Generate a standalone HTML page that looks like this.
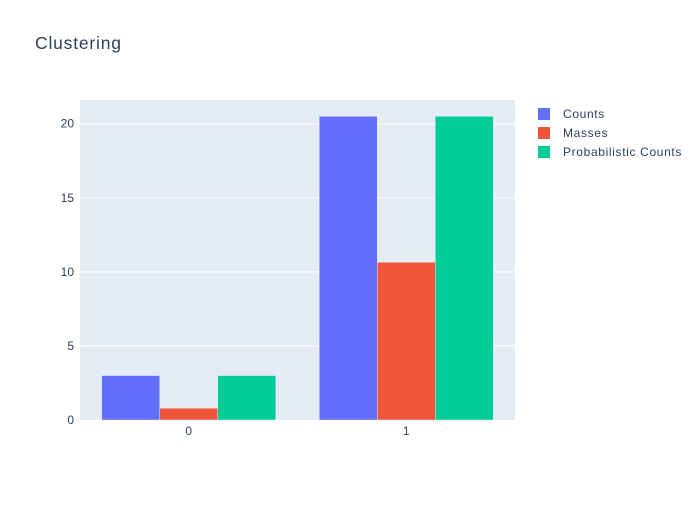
<!DOCTYPE html>
<html><head><meta charset="utf-8"><style>
body{margin:0;background:#fff;font-family:"Liberation Sans",sans-serif}
text{font-family:"Liberation Sans",sans-serif}
</style></head><body>
<svg id="chart" width="700" height="500" xmlns="http://www.w3.org/2000/svg">
<rect width="700" height="500" fill="#fff"/>
<text x="35" y="49" font-size="17.5" letter-spacing="0.8" fill="#2a3f5f">Clustering</text>
<rect x="80" y="100" width="435" height="320" fill="#e5ecf6"/>
<g id="grid"></g><g id="bars"></g><g id="axes"></g><g id="legend"></g>
</svg>
<script>
const categories=["0","1"];
const seriesNames=["Counts","Masses","Probabilistic Counts"];
const counts=[3,20.5];
const masses=[0.8,10.65];
const probCounts=[3,20.5];
const yTicks=[0,5,10,15,20];
const colors=["#636efa","#EF553B","#00cc96"];
const series=[counts,masses,probCounts];
const ns="http://www.w3.org/2000/svg";
const L=80,R=515,T=100,B=420,yMax=21.6;
const y=v=>B-(v/yMax)*(B-T);
const band=(R-L)/categories.length;
const xc=i=>L+band*(i+0.5);
function mk(tag,attrs,parent){const e=document.createElementNS(ns,tag);for(const k in attrs)e.setAttribute(k,attrs[k]);document.getElementById(parent).appendChild(e);return e;}
yTicks.forEach(t=>{
  if(t>0){const g=mk("line",{x1:L,x2:R,y1:y(t),y2:y(t),stroke:"#fff","stroke-width":1},"grid");
  
  }
  const tx=mk("text",{x:L-6,y:y(t)+4,"text-anchor":"end","font-size":12,fill:"#2a3f5f"},"axes");
  tx.textContent=t;
  
  
});
const bw=band*0.8/series.length;
categories.forEach((c,i)=>{
  series.forEach((s,j)=>{
    const x0=xc(i)-band*0.4+j*bw;
    const r=mk("rect",{x:x0,y:y(s[i]),width:bw,height:B-y(s[i]),fill:colors[j],stroke:"#e5ecf6","stroke-width":0.5},"bars");
    
    
  });
  const tx=mk("text",{x:xc(i),y:B+15,"text-anchor":"middle","font-size":12,fill:"#2a3f5f"},"axes");
  tx.textContent=c;
  
  
});
seriesNames.forEach((n,j)=>{
  const g=mk("g",{},"legend");
  
  
  const yy=114+j*19;
  const r=document.createElementNS(ns,"rect");
  r.setAttribute("x",538);r.setAttribute("y",yy-6);r.setAttribute("width",12);r.setAttribute("height",12);r.setAttribute("fill",colors[j]);
  
  
  g.appendChild(r);
  const t=document.createElementNS(ns,"text");
  t.setAttribute("x",563);t.setAttribute("y",yy+4);t.setAttribute("font-size",12);t.setAttribute("fill","#2a3f5f");
  t.setAttribute("letter-spacing","0.65");
  t.textContent=n;
  
  
  g.appendChild(t);
});
</script>
</body></html>
